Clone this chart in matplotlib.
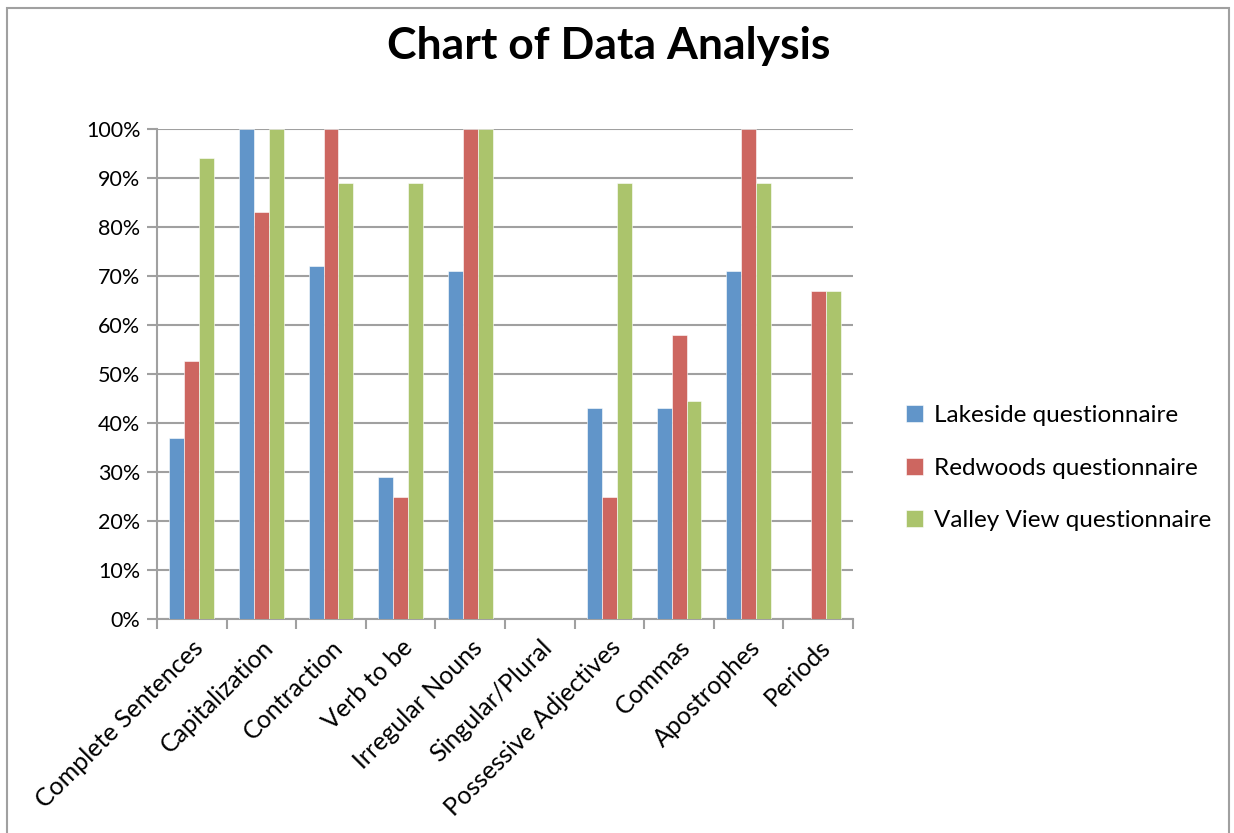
import numpy as np
import matplotlib.pyplot as plt
from matplotlib.ticker import PercentFormatter, FixedLocator
from matplotlib.patches import Rectangle

# ── Data (percent) ────────────────────────────────────────────────────────────
categories = ["Complete Sentences", "Capitalization", "Contraction", "Verb to be",
              "Irregular Nouns", "Singular/Plural", "Possessive Adjectives",
              "Commas", "Apostrophes", "Periods"]
lakeside = [37, 100, 72, 29, 71, 0, 43, 43, 71, 0]
redwoods = [52.6, 83, 100, 25, 100, 0, 25, 58, 100, 67]
valley_view = [94, 100, 89, 89, 100, 0, 89, 44.4, 89, 67]
series_names = ["Lakeside questionnaire", "Redwoods questionnaire", "Valley View questionnaire"]
colors = ["#6195C9", "#CD6660", "#ABC46C"]

plt.rcParams["font.family"] = ["Lato", "DejaVu Sans"]

fig = plt.figure(figsize=(12.34, 8.33), dpi=100)
ax = fig.add_axes([0.1272, 0.2569, 0.5641, 0.5882])

x = np.arange(len(categories))
w = 0.215
for i, (vals, name, c) in enumerate(zip([lakeside, redwoods, valley_view], series_names, colors)):
    ax.bar(x + (i - 1) * w, vals, width=w, color=c, label=name, zorder=3,
           edgecolor="white", linewidth=0.4)

ax.set_xlim(-0.5, len(categories) - 0.5)
ax.set_ylim(0, 100)
ax.set_yticks(np.arange(0, 101, 10))
ax.yaxis.set_major_formatter(PercentFormatter(decimals=0))
ax.grid(axis="y", color="#A0A0A0", linewidth=1.5, zorder=0)

ax.set_xticks(x)
ax.set_xticklabels(categories, rotation=45, ha="right", rotation_mode="anchor", fontsize=18)
ax.xaxis.set_minor_locator(FixedLocator(np.arange(-0.5, len(categories), 1)))
ax.tick_params(axis="x", which="major", length=0, pad=12)
ax.tick_params(axis="x", which="minor", length=7, width=1.5, color="#A0A0A0")
ax.tick_params(axis="y", length=7, width=1.5, color="#A0A0A0", labelsize=15.5, pad=5)

for s in ["top", "right"]:
    ax.spines[s].set_visible(False)
for s in ["left", "bottom"]:
    ax.spines[s].set_color("#A0A0A0")
    ax.spines[s].set_linewidth(1.5)

fig.text(0.493, 0.945, "Chart of Data Analysis", ha="center", va="center",
         fontsize=32, fontweight="bold")

ax.legend(loc="center left", bbox_to_anchor=(1.045, 0.308), frameon=False,
          fontsize=17.5, handlelength=0.7, handleheight=0.7, handletextpad=0.45,
          labelspacing=1.3)

# outer chart border
fig.patches.append(Rectangle((0.006, -0.01), 0.99, 1.0, transform=fig.transFigure,
                             fill=False, edgecolor="#A0A0A0", linewidth=1.5))

plt.savefig("out.png", dpi=100)
